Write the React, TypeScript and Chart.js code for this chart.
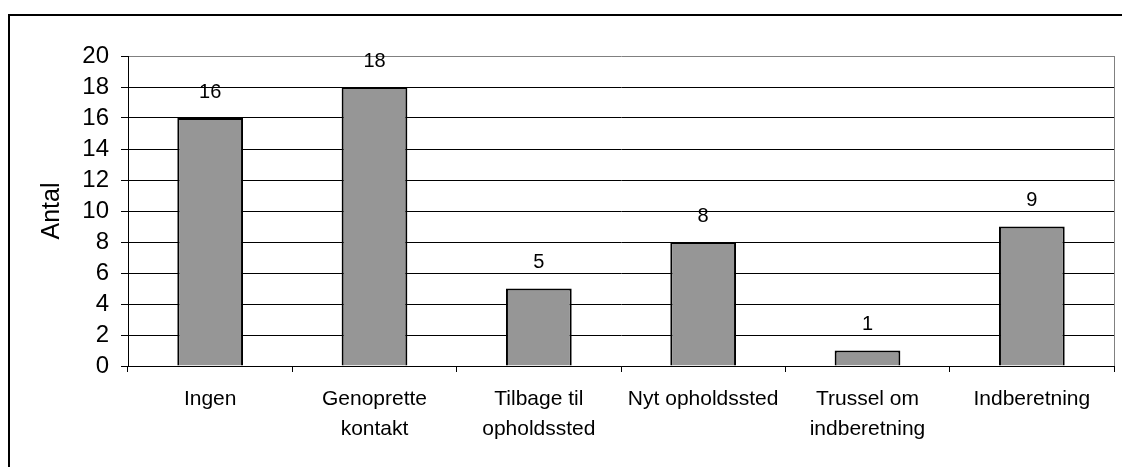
import React, { useEffect, useRef } from "react";
import { Chart, registerables } from "chart.js";

Chart.register(...registerables);

const categories: string[][] = [
  ["Ingen"],
  ["Genoprette", "kontakt"],
  ["Tilbage til", "opholdssted"],
  ["Nyt opholdssted"],
  ["Trussel om", "indberetning"],
  ["Indberetning"],
];
const values: number[] = [16, 18, 5, 8, 1, 9];
const yMin = 0;
const yMax = 20;
const yStep = 2;
const yTitle = "Antal";

const FONT = "'Liberation Sans', Arial, sans-serif";

export default function App() {
  const ref = useRef<HTMLCanvasElement>(null);

  useEffect(() => {
    document.body.style.margin = "0";
    const canvas = ref.current;
    if (!canvas) return;

    const dataLabels = {
      id: "dataLabels",
      afterDatasetsDraw(chart: any) {
        const ctx = chart.ctx;
        const meta = chart.getDatasetMeta(0);
        ctx.save();
        ctx.font = `20px ${FONT}`;
        ctx.fillStyle = "#000";
        ctx.textAlign = "center";
        ctx.textBaseline = "middle";
        meta.data.forEach((bar: any, i: number) => {
          ctx.fillText(String(values[i]), bar.x, bar.y - 26);
        });
        ctx.restore();
      },
    };

    const frame = {
      id: "frame",
      afterDraw(chart: any) {
        const { ctx, chartArea } = chart;
        ctx.save();
        ctx.strokeStyle = "#808080";
        ctx.lineWidth = 1;
        ctx.beginPath();
        const x = Math.round(chartArea.right) + 0.5;
        ctx.moveTo(x, chartArea.top);
        ctx.lineTo(x, chartArea.bottom);
        ctx.stroke();
        ctx.restore();
      },
    };

    const chart = new Chart(canvas, {
      type: "bar",
      data: {
        labels: categories,
        datasets: [
          {
            data: values,
            backgroundColor: "#969696",
            borderColor: "#000",
            borderWidth: 2,
            barPercentage: 0.4,
            categoryPercentage: 1,
          },
        ],
      },
      options: {
        responsive: false,
        animation: false,
        layout: { padding: { top: 56, right: 8, left: 0, bottom: 0 } },
        plugins: {
          legend: { display: false },
          tooltip: { enabled: false },
        },
        scales: {
          x: {
            grid: {
              display: true,
              drawOnChartArea: false,
              drawTicks: true,
              tickLength: 6,
              color: "#000",
              offset: true,
            },
            border: { color: "#000", width: 1 },
            ticks: {
              font: { family: FONT, size: 21, lineHeight: 1.43 },
              color: "#000",
              padding: 12,
              maxRotation: 0,
              autoSkip: false,
            },
            afterFit: (s: any) => {
              s.height = 101;
            },
          },
          y: {
            min: yMin,
            max: yMax,
            ticks: {
              stepSize: yStep,
              autoSkip: false,
              font: { family: FONT, size: 24 },
              color: "#000",
              padding: 12,
            },
            grid: {
              color: (c: any) => (c.tick && c.tick.value === yMax ? "#808080" : "#000"),
              tickColor: "#000",
              tickLength: 7,
            },
            border: { color: "#000", width: 1 },
            title: {
              display: true,
              text: yTitle,
              color: "#000",
              font: { family: FONT, size: 25 },
              padding: { top: 37, bottom: 0 },
            },
            afterFit: (s: any) => {
              s.width = 128;
            },
          },
        },
      },
      plugins: [dataLabels, frame],
    });

    return () => chart.destroy();
  }, []);

  return (
    <div style={{ position: "relative", width: 1122, height: 467, overflow: "hidden" }}>
      <div
        style={{
          position: "absolute",
          left: 8,
          top: 14,
          width: 1300,
          height: 700,
          border: "2px solid #000",
          boxSizing: "border-box",
        }}
      />
      <canvas
        ref={ref}
        width={1122}
        height={467}
        style={{ position: "absolute", left: 0, top: 0, width: 1122, height: 467 }}
      />
    </div>
  );
}
